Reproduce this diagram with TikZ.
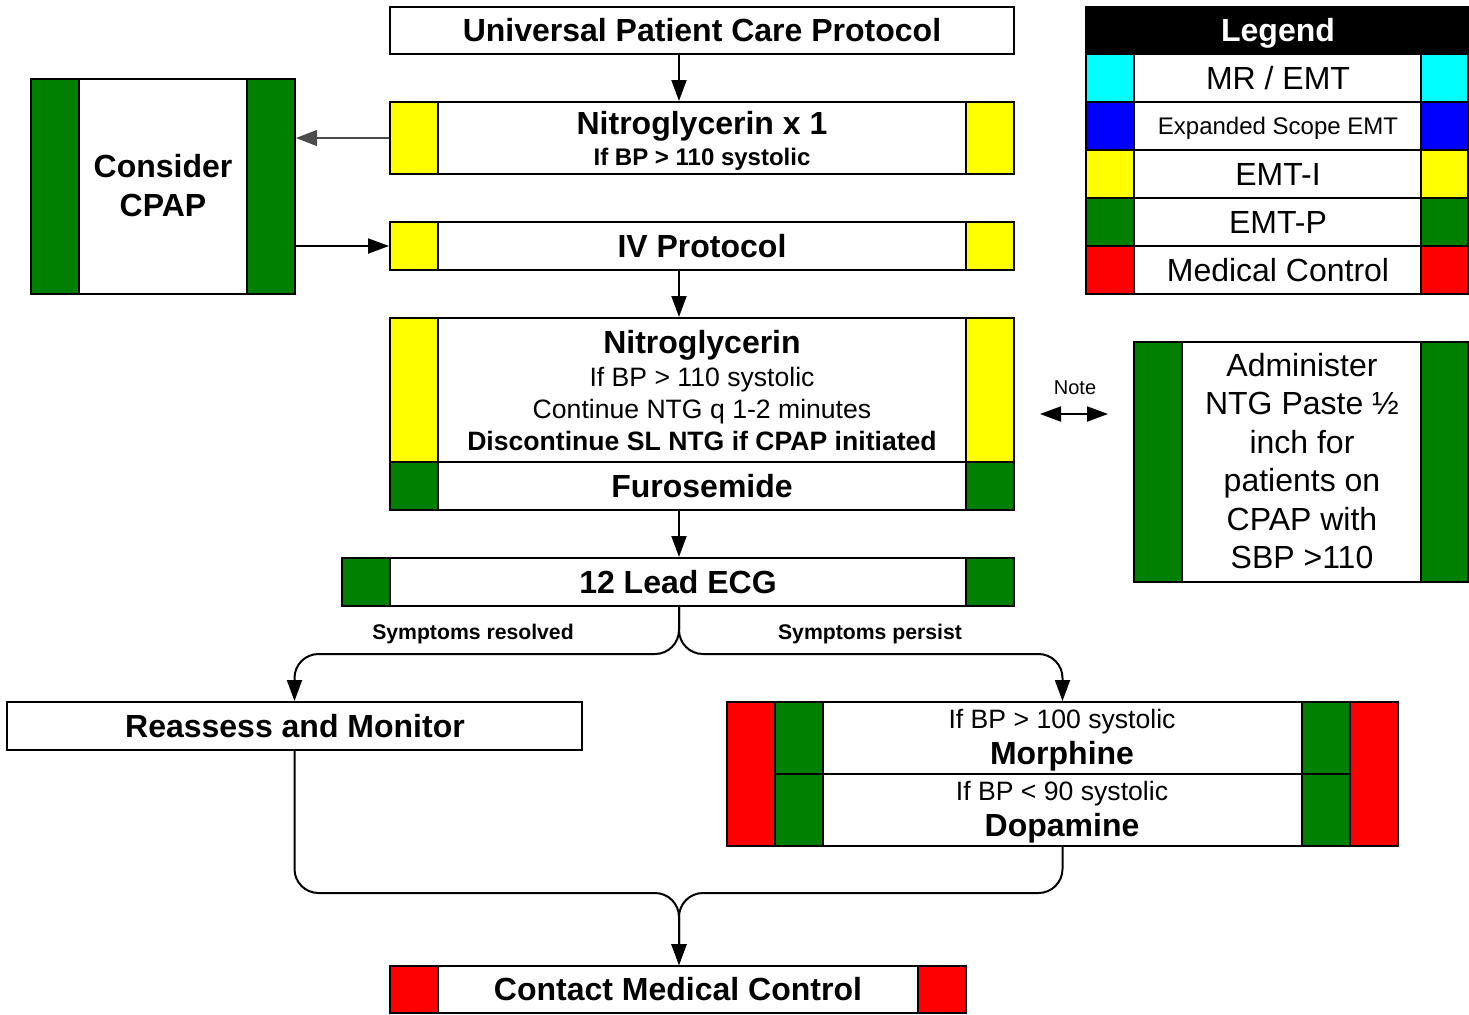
\documentclass[tikz,border=0pt]{standalone}
\usepackage{fontspec}
\setmainfont{Liberation Sans}
\usetikzlibrary{arrows.meta,fit}
\definecolor{cP}{RGB}{0,128,0}
\definecolor{cI}{RGB}{255,255,0}
\definecolor{cM}{RGB}{255,0,0}
\definecolor{cE}{RGB}{0,255,255}
\definecolor{cX}{RGB}{0,0,255}
\begin{document}
\begin{tikzpicture}[x=0.5pt,y=-0.5pt,
 box/.style={draw=black, line width=1pt, fill=white, inner sep=0pt},
 band/.style={draw=black, line width=1pt},
 one/.style={text height=#1, text depth=0pt, inner sep=0pt},
 big/.style={one=11.5pt, font=\fontsize{16}{19}\selectfont\bfseries},
 bigr/.style={one=11.5pt, font=\fontsize{16}{19}\selectfont},
 mid/.style={one=9.6pt, font=\fontsize{13.3}{16}\selectfont},
 midb/.style={one=9.6pt, font=\fontsize{13.3}{16}\selectfont\bfseries},
 sm/.style={one=8.6pt, font=\fontsize{12}{14}\selectfont},
 smb/.style={one=8.6pt, font=\fontsize{12}{14}\selectfont\bfseries},
 lbl/.style={one=7.6pt, font=\fontsize{10.6}{13}\selectfont\bfseries},
 conn/.style={line width=1pt, -{Triangle[length=10.5pt,width=7.5pt]}},
]
\useasboundingbox (0,0) rectangle (1469,1014);
\coordinate (mx) at (679,0);

% Universal Patient Care Protocol
\node[box, fit={(390,7) (1014,54)}] (univ) {};
\node[big] (univT) at (702,30) {Universal Patient Care Protocol};

% Nitroglycerin x 1
\node[box, fit={(390,102) (1014,174)}] (nx1) {};
\fill[band, fill=cI] (390,102) rectangle (438,174);
\fill[band, fill=cI] (966,102) rectangle (1014,174);
\node[big] (nx1T) at (702,123) {Nitroglycerin x 1};
\node[smb] (nx1S) at (702,157) {If BP > 110 systolic};

% Consider CPAP
\node[box, fit={(31,79) (295,294)}] (cpap) {};
\fill[band, fill=cP] (31,79) rectangle (79,294);
\fill[band, fill=cP] (247,79) rectangle (295,294);
\node[align=center, font=\fontsize{16}{19.5}\selectfont\bfseries] (cpapT) at (163,186) {Consider\\CPAP};

% IV Protocol
\node[box, fit={(390,222) (1014,270)}] (iv) {};
\fill[band, fill=cI] (390,222) rectangle (438,270);
\fill[band, fill=cI] (966,222) rectangle (1014,270);
\node[big] (ivT) at (702,246) {IV Protocol};

% Nitroglycerin / Furosemide
\node[box, fit={(390,318) (1014,510)}] (ntg) {};
\fill[band, fill=cI] (390,318) rectangle (438,462);
\fill[band, fill=cI] (966,318) rectangle (1014,462);
\fill[band, fill=cP] (390,462) rectangle (438,510);
\fill[band, fill=cP] (966,462) rectangle (1014,510);
\draw[line width=1pt] (438,462) -- (966,462);
\node[big] (ntgT) at (702,342) {Nitroglycerin};
\node[mid] (ntg1) at (702,377) {If BP > 110 systolic};
\node[mid] (ntg2) at (702,409) {Continue NTG q 1-2 minutes};
\node[midb] (ntg3) at (702,441) {Discontinue SL NTG if CPAP initiated};
\node[big] (furT) at (702,486) {Furosemide};

% 12 Lead ECG
\node[box, fit={(342,558) (1014,606)}] (ecg) {};
\fill[band, fill=cP] (342,558) rectangle (390,606);
\fill[band, fill=cP] (966,558) rectangle (1014,606);
\node[big] (ecgT) at (678,582) {12 Lead ECG};

% Reassess and Monitor
\node[box, fit={(7,702) (582,750)}] (reas) {};
\node[big] (reasT) at (295,726) {Reassess and Monitor};

% Morphine / Dopamine
\node[box, fit={(727,702) (1398,846)}] (morph) {};
\fill[band, fill=cM] (727,702) rectangle (775,846);
\fill[band, fill=cP] (775,702) rectangle (823,774);
\fill[band, fill=cP] (775,774) rectangle (823,846);
\fill[band, fill=cP] (1302,702) rectangle (1350,774);
\fill[band, fill=cP] (1302,774) rectangle (1350,846);
\fill[band, fill=cM] (1350,702) rectangle (1398,846);
\draw[line width=1pt] (823,774) -- (1302,774);
\node[mid] (m1) at (1062,719) {If BP > 100 systolic};
\node[big] (m2) at (1062,753) {Morphine};
\node[mid] (d1) at (1062,791) {If BP < 90 systolic};
\node[big] (d2) at (1062,825) {Dopamine};

% Contact Medical Control
\node[box, fit={(390,966) (966,1013)}] (cmc) {};
\fill[band, fill=cM] (390,966) rectangle (438,1013);
\fill[band, fill=cM] (918,966) rectangle (966,1013);
\node[big] (cmcT) at (678,989) {Contact Medical Control};

% Legend
\node[box, fit={(1086,7) (1468,294)}] (leg) {};
\fill[band, fill=black] (1086,7) rectangle (1468,54);
\node[big, text=white] (legT) at (1278,30) {Legend};
\foreach \y/\c/\t/\s in {54/cE/{MR / EMT}/bigr, 102/cX/{Expanded Scope EMT}/sm, 150/cI/{EMT-I}/bigr, 198/cP/{EMT-P}/bigr, 246/cM/{Medical Control}/bigr}{
  \draw[line width=1pt] (1134,\y) rectangle (1421,\y+48);
  \fill[band, fill=\c] (1086,\y) rectangle (1134,\y+48);
  \fill[band, fill=\c] (1421,\y) rectangle (1468,\y+48);
  \node[\s] (leg\y) at (1278,\y+24) {\t};
}

% Administer NTG Paste
\node[box, fit={(1134,342) (1468,582)}] (adm) {};
\fill[band, fill=cP] (1134,342) rectangle (1182,582);
\fill[band, fill=cP] (1421,342) rectangle (1468,582);
\node[align=center, font=\fontsize{16}{19.25}\selectfont] (admT) at (1302,461)
  {Administer\\NTG Paste ½\\inch for\\patients on\\CPAP with\\SBP >110};

% Note
\node[one=7.2pt, font=\fontsize{10}{12}\selectfont] (note) at (1075,387) {Note};
\coordinate (nL) at (1040,414);
\coordinate (nR) at (1108,414);
\draw[line width=1pt, {Triangle[length=10.5pt,width=7.5pt]}-{Triangle[length=10.5pt,width=7.5pt]}] (nL) -- (nR);

% Connectors
\draw[conn] (mx |- univ.south) -- (mx |- nx1.north);
\draw[line width=0.6pt, draw=black!70, -{Triangle[length=10.5pt,width=8pt]}] (nx1.west) -- (cpap.east |- nx1.west);
\coordinate (cpapOut) at (295,246);
\draw[conn] (cpapOut) -- (iv.west);
\draw[conn] (mx |- iv.south) -- (mx |- ntg.north);
\draw[conn] (mx |- ntg.south) -- (mx |- ecg.north);

\coordinate (splitY) at (0,654);
\draw[conn, rounded corners=12pt] (mx |- ecg.south) |- (reas.north |- splitY) -- (reas.north);
\draw[conn, rounded corners=12pt] (mx |- ecg.south) |- (morph.north |- splitY) -- (morph.north);
\node[lbl] (res) at (473,632) {Symptoms resolved};
\node[lbl] (per) at (870,632) {Symptoms persist};

\coordinate (mergeY) at (0,893);
\draw[conn, rounded corners=12pt] (reas.south) |- (mx |- mergeY) -- (mx |- cmc.north);
\draw[conn, rounded corners=12pt] (morph.south) |- (mx |- mergeY) -- (mx |- cmc.north);
\end{tikzpicture}
\end{document}
